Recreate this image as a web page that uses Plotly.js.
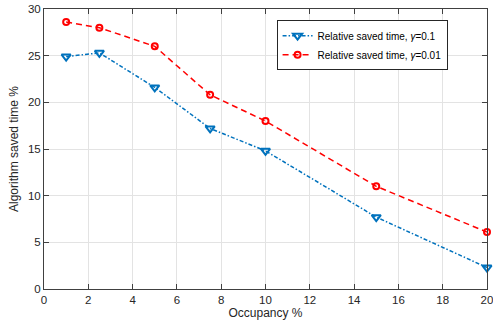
<!DOCTYPE html>
<html>
<head>
<meta charset="utf-8">
<script src="https://cdn.plot.ly/plotly-3.0.1.min.js"></script>
<style>html,body{margin:0;padding:0;background:#fff;}</style>
</head>
<body>
<div id="chart" style="width:493px;height:320px;"></div>
<script>
const occupancy = [1, 2.5, 5, 7.5, 10, 15, 20];
const savedGamma01 = [24.9, 25.3, 21.6, 17.2, 14.8, 7.7, 2.3];
const savedGamma001 = [28.6, 28.0, 26.0, 20.8, 18.0, 11.0, 6.1];
const seriesNames = ['Relative saved time, <i>γ</i>=0.1', 'Relative saved time, <i>γ</i>=0.01'];
const xTicks = [0, 2, 4, 6, 8, 10, 12, 14, 16, 18, 20];
const yTicks = [0, 5, 10, 15, 20, 25, 30];

const traces = [
  {
    x: occupancy, y: savedGamma01, name: seriesNames[0], mode: 'lines+markers', cliponaxis: false,
    line: {color: '#0072BD', width: 1.5, dash: '4px,2px,1.5px,2px'},
    marker: {symbol: 'triangle-down-open', size: 8, color: '#0072BD', line: {width: 2, color: '#0072BD'}}
  },
  {
    x: occupancy, y: savedGamma001, name: seriesNames[1], mode: 'lines+markers', cliponaxis: false,
    line: {color: '#FF0000', width: 1.5, dash: '6px,4px'},
    marker: {symbol: 'circle-open', size: 6, color: '#FF0000', line: {width: 2, color: '#FF0000'}}
  }
];

const axisCommon = {
  showline: true, mirror: 'ticks', linecolor: '#404040', linewidth: 1,
  ticks: 'inside', ticklen: 5, tickcolor: '#404040',
  showgrid: true, gridcolor: '#e3e3e3', gridwidth: 1, zeroline: false,
  ticklabeloverflow: 'allow',
  tickfont: {family: 'Liberation Sans, Arial, sans-serif', size: 11.5, color: '#262626'}
};

const layout = {
  width: 493, height: 320,
  margin: {l: 44, r: 6, t: 9, b: 31},
  paper_bgcolor: '#fff', plot_bgcolor: '#fff',
  showlegend: true,
  legend: {
    x: 0.525, y: 0.96, xanchor: 'left', yanchor: 'top',
    bgcolor: '#fff', bordercolor: '#262626', borderwidth: 1,
    font: {family: 'Liberation Sans, Arial, sans-serif', size: 10, color: '#000'},
    tracegroupgap: 0, itemwidth: 30
  },
  xaxis: Object.assign({}, axisCommon, {
    range: [0, 20], tickvals: xTicks, ticktext: xTicks.map(String),
    title: {text: 'Occupancy %', standoff: 2, font: {family: 'Liberation Sans, Arial, sans-serif', size: 12, color: '#262626'}}
  }),
  yaxis: Object.assign({}, axisCommon, {
    range: [0, 30], tickvals: yTicks, ticktext: yTicks.map(String),
    title: {text: 'Algorithm saved time %', standoff: 6, font: {family: 'Liberation Sans, Arial, sans-serif', size: 12, color: '#262626'}}
  })
};

Plotly.newPlot('chart', traces, layout, {displayModeBar: false, staticPlot: true});
</script>
</body>
</html>
